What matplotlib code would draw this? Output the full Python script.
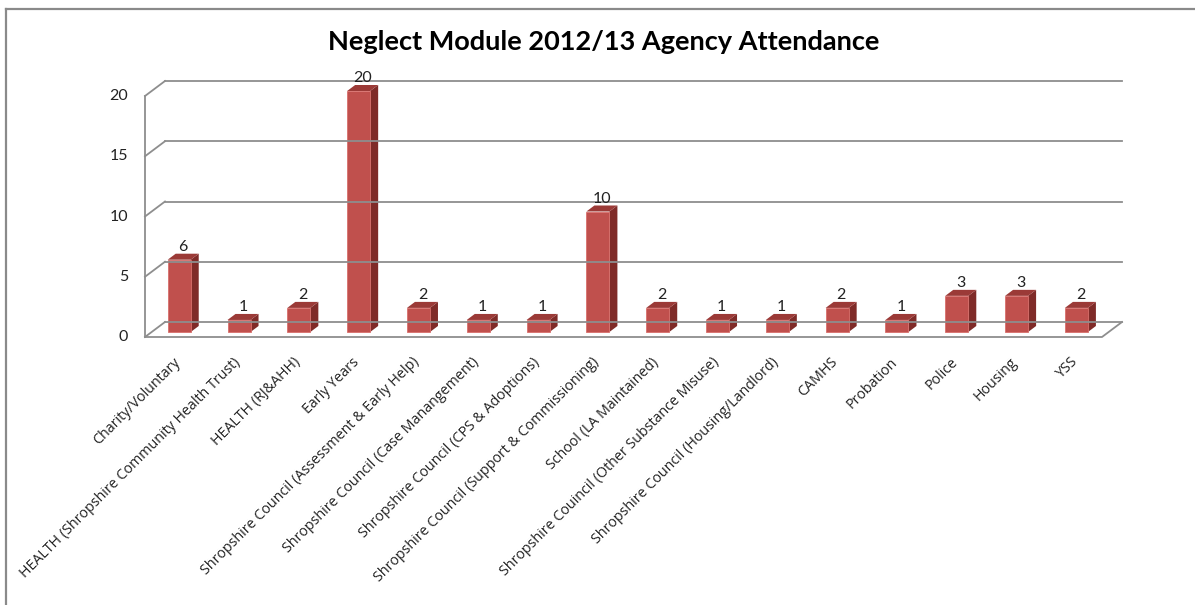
import numpy as np
import matplotlib
matplotlib.use('Agg')
import matplotlib.pyplot as plt
from matplotlib.patches import Polygon
from matplotlib.lines import Line2D

plt.rcParams['font.family'] = ['Lato', 'DejaVu Sans']

agencies = [
    'Charity/Voluntary',
    'HEALTH (Shropshire Community Health Trust)',
    'HEALTH (RJ&AHH)',
    'Early Years',
    'Shropshire Council (Assessment & Early Help)',
    'Shropshire Council (Case Manangement)',
    'Shropshire Council (CPS & Adoptions)',
    'Shropshire Council (Support & Commissioning)',
    'School (LA Maintained)',
    'Shropshire Couincil (Other Substance Misuse)',
    'Shropshire Council (Housing/Landlord)',
    'CAMHS',
    'Probation',
    'Police',
    'Housing',
    'YSS',
]
attendance = [6, 1, 2, 20, 2, 1, 1, 10, 2, 1, 1, 2, 1, 3, 3, 2]
yticks = [0, 5, 10, 15, 20]

W, H = 1195, 605
fig = plt.figure(figsize=(W / 100, H / 100), dpi=100)
fig.patch.set_facecolor('white')

# front plane of the pseudo 3d box
x0, x1, ybot, ytop = 145, 1102, 337, 96
ax = fig.add_axes([x0 / W, 1 - ybot / H, (x1 - x0) / W, (ybot - ytop) / H])
n = len(agencies)
ax.set_xlim(0, n)
ax.set_ylim(0, 20)
ax.axis('off')

# depth of the box in data units (20px right, 15px up)
px_x = (x1 - x0) / n
px_y = (ybot - ytop) / 20
DX = 20 / px_x
DY = 15 / px_y

grid_c = '#8e8e8e'
lw = 1.3
for v in yticks:
    ax.plot([0, DX], [v, v + DY], color=grid_c, lw=lw, clip_on=False)
    ax.plot([DX, n + DX], [v + DY, v + DY], color=grid_c, lw=lw, clip_on=False)
    ax.text(-17 / px_x, v, str(v), ha='right', va='center', fontsize=11.5,
            color='#222222')
ax.plot([0, 0], [0, 20], color=grid_c, lw=lw, clip_on=False)
ax.plot([0, n, n + DX], [0, 0, DY], color=grid_c, lw=lw, clip_on=False)

# bars
f0, d = 1 / 3, 0.4
off, bw = 0.268, 0.385
c_front, c_side, c_top = '#c0504d', '#7f2b28', '#9b3a37'
for i, v in enumerate(attendance):
    xl = i + off + f0 * DX
    yb = f0 * DY
    ddx, ddy = d * DX, d * DY
    front = [(xl, yb), (xl + bw, yb), (xl + bw, yb + v), (xl, yb + v)]
    side = [(xl + bw, yb), (xl + bw + ddx, yb + ddy),
            (xl + bw + ddx, yb + v + ddy), (xl + bw, yb + v)]
    top = [(xl, yb + v), (xl + bw, yb + v),
           (xl + bw + ddx, yb + v + ddy), (xl + ddx, yb + v + ddy)]
    ax.add_patch(Polygon(side, closed=True, fc=c_side, ec='none', clip_on=False))
    ax.add_patch(Polygon(top, closed=True, fc=c_top, ec='none', clip_on=False))
    ax.add_patch(Polygon(front, closed=True, fc=c_front, ec='#d8706c', lw=0.6,
                         clip_on=False))
    ax.annotate(str(v), (xl + bw / 2 + ddx / 2, yb + v + ddy), xytext=(0, 0),
                textcoords='offset points', ha='center', va='bottom',
                fontsize=11.5, color='#222222', annotation_clip=False)

# category labels, ending under each column
for i, lab in enumerate(agencies):
    ax.text(i + 0.5 + 3 / px_x, -23 / px_y, lab, rotation=45,
            rotation_mode='anchor', ha='right', va='center', fontsize=10.3,
            color='#222222', family=['Open Sans', 'DejaVu Sans'])

fig.text(604 / W, 1 - 42 / H, 'Neglect Module 2012/13 Agency Attendance',
         ha='center', va='center', fontsize=19.5, fontweight='bold')

# chart area border (top and left edges visible)
fig.add_artist(Line2D([6 / W, 6 / W], [0, 1 - 9 / H], color='#8a8a8a', lw=1.6))
fig.add_artist(Line2D([6 / W, 1], [1 - 9 / H, 1 - 9 / H], color='#8a8a8a', lw=1.6))

fig.savefig('out.png', dpi=100)
